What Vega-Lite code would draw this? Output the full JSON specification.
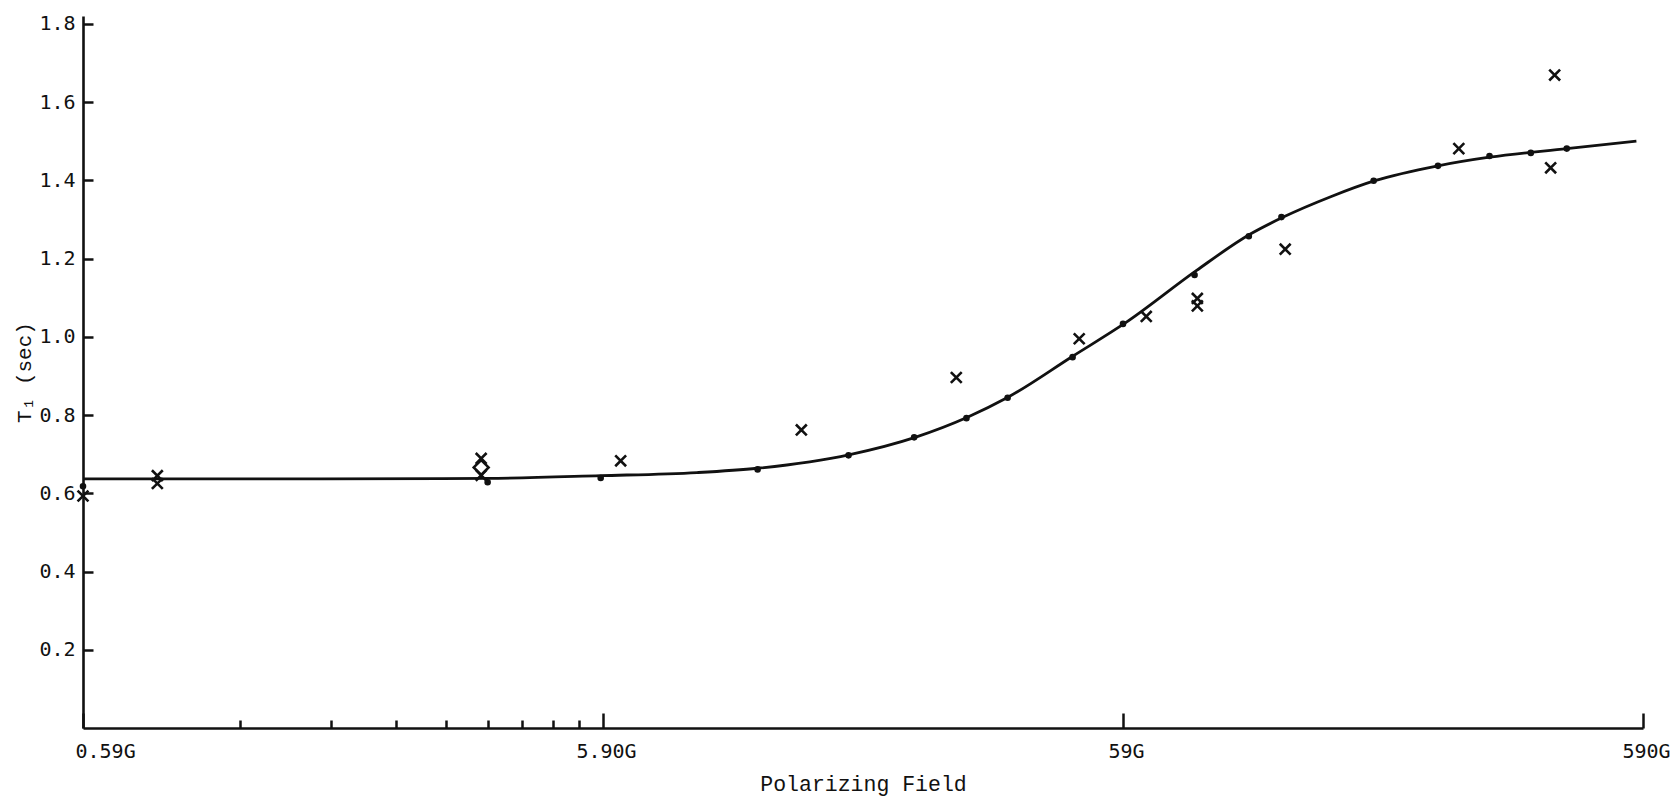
{
  "$schema": "https://vega.github.io/schema/vega-lite/v6.json",
  "width": 1560,
  "height": 712,
  "autosize": {"type": "none"},
  "padding": {"left": 83, "top": 16, "right": 35, "bottom": 71},
  "background": "white",
  "config": {
    "view": {"stroke": null},
    "axis": {"grid": false, "domainColor": "#111", "tickColor": "#111", "labelColor": "#111", "titleColor": "#111", "labelFont": "DejaVu Sans Mono", "titleFont": "Liberation Mono", "titleFontWeight": "normal"}
  },
  "datasets": {
    "curve": [
      {"field": 0.59, "t1": 0.637},
      {"field": 1.7, "t1": 0.637},
      {"field": 3.54, "t1": 0.638},
      {"field": 5.84, "t1": 0.645},
      {"field": 8.95, "t1": 0.653},
      {"field": 11.7, "t1": 0.664},
      {"field": 17.6, "t1": 0.699},
      {"field": 23.5, "t1": 0.743},
      {"field": 29.7, "t1": 0.795},
      {"field": 35.3, "t1": 0.844},
      {"field": 47.3, "t1": 0.951},
      {"field": 60, "t1": 1.038},
      {"field": 81.6, "t1": 1.169},
      {"field": 103.5, "t1": 1.262},
      {"field": 120, "t1": 1.306},
      {"field": 148, "t1": 1.358},
      {"field": 180, "t1": 1.399},
      {"field": 238, "t1": 1.437},
      {"field": 299, "t1": 1.459},
      {"field": 421, "t1": 1.481},
      {"field": 573, "t1": 1.5}
    ],
    "points": [
      {"field": 0.59, "t1": 0.618, "kind": "dot"},
      {"field": 3.54, "t1": 0.628, "kind": "dot"},
      {"field": 5.84, "t1": 0.639, "kind": "dot"},
      {"field": 11.7, "t1": 0.661, "kind": "dot"},
      {"field": 17.5, "t1": 0.697, "kind": "dot"},
      {"field": 23.4, "t1": 0.743, "kind": "dot"},
      {"field": 29.5, "t1": 0.792, "kind": "dot"},
      {"field": 35.4, "t1": 0.844, "kind": "dot"},
      {"field": 47.2, "t1": 0.948, "kind": "dot"},
      {"field": 59, "t1": 1.033, "kind": "dot"},
      {"field": 81, "t1": 1.158, "kind": "dot"},
      {"field": 103, "t1": 1.257, "kind": "dot"},
      {"field": 119, "t1": 1.306, "kind": "dot"},
      {"field": 179, "t1": 1.399, "kind": "dot"},
      {"field": 238, "t1": 1.437, "kind": "dot"},
      {"field": 299, "t1": 1.462, "kind": "dot"},
      {"field": 359, "t1": 1.47, "kind": "dot"},
      {"field": 421, "t1": 1.481, "kind": "dot"},
      {"field": 0.59, "t1": 0.593, "kind": "x"},
      {"field": 0.82, "t1": 0.645, "kind": "x"},
      {"field": 0.82, "t1": 0.625, "kind": "x"},
      {"field": 3.44, "t1": 0.689, "kind": "x"},
      {"field": 3.44, "t1": 0.646, "kind": "x"},
      {"field": 3.44, "t1": 0.666, "kind": "diamond"},
      {"field": 6.38, "t1": 0.683, "kind": "x"},
      {"field": 14.2, "t1": 0.762, "kind": "x"},
      {"field": 28.2, "t1": 0.896, "kind": "x"},
      {"field": 48.6, "t1": 0.995, "kind": "x"},
      {"field": 65.4, "t1": 1.052, "kind": "x"},
      {"field": 82, "t1": 1.098, "kind": "x"},
      {"field": 82, "t1": 1.079, "kind": "x"},
      {"field": 121, "t1": 1.224, "kind": "x"},
      {"field": 261, "t1": 1.481, "kind": "x"},
      {"field": 399, "t1": 1.669, "kind": "x"},
      {"field": 392, "t1": 1.432, "kind": "x"}
    ]
  },
  "encoding": {
    "x": {
      "field": "field", "type": "quantitative",
      "scale": {"type": "log", "domain": [0.59, 590], "nice": false, "zero": false},
      "axis": {
        "title": "Polarizing Field",
        "titleFontSize": 21.5,
        "titlePadding": 5,
        "values": [0.59, 1.18, 1.77, 2.36, 2.95, 3.54, 4.13, 4.72, 5.31, 5.9, 59, 590],
        "labelExpr": "datum.value == 0.59 ? '0.59G' : datum.value == 5.9 ? '5.90G' : datum.value == 59 ? '59G' : datum.value == 590 ? '590G' : ''",
        "labelFontSize": 20,
        "labelPadding": 28,
        "labelAlign": {"condition": {"test": "datum.value == 0.59", "value": "left"}, "value": "center"},
        "labelOffset": {"condition": {"test": "datum.value == 0.59", "value": -8}, "value": 3},
        "labelFlush": false,
        "labelOverlap": false,
        "tickSize": {"condition": {"test": "datum.value == 0.59 || datum.value == 5.9 || datum.value == 59 || datum.value == 590", "value": -15}, "value": -8},
        "tickWidth": 2.5,
        "domainWidth": 2.6
      }
    },
    "y": {
      "field": "t1", "type": "quantitative",
      "scale": {"domain": [0, 1.82], "nice": false, "zero": true},
      "axis": {
        "title": "T₁  (sec)",
        "titleFontSize": 21,
        "titlePadding": 4,
        "values": [0.2, 0.4, 0.6, 0.8, 1.0, 1.2, 1.4, 1.6, 1.8],
        "format": ".1f",
        "labelFontSize": 20,
        "labelPadding": 18,
        "tickSize": -10,
        "tickWidth": 2.5,
        "domainWidth": 2.6
      }
    }
  },
  "layer": [
    {
      "data": {"name": "curve"},
      "mark": {"type": "line", "interpolate": "monotone", "color": "#111", "strokeWidth": 2.8}
    },
    {
      "data": {"name": "points"},
      "mark": {"type": "point", "filled": false, "strokeWidth": 2.6, "opacity": 1},
      "encoding": {
        "shape": {
          "field": "kind", "type": "nominal",
          "scale": {"domain": ["dot", "x", "diamond"], "range": ["circle", "M-1,-1L1,1M-1,1L1,-1", "diamond"]},
          "legend": null
        },
        "size": {
          "field": "kind", "type": "nominal",
          "scale": {"domain": ["dot", "x", "diamond"], "range": [16, 220, 100]},
          "legend": null
        },
        "fill": {
          "field": "kind", "type": "nominal",
          "scale": {"domain": ["dot", "x", "diamond"], "range": ["#111", "transparent", "transparent"]},
          "legend": null
        },
        "stroke": {"value": "#111"}
      }
    }
  ]
}
